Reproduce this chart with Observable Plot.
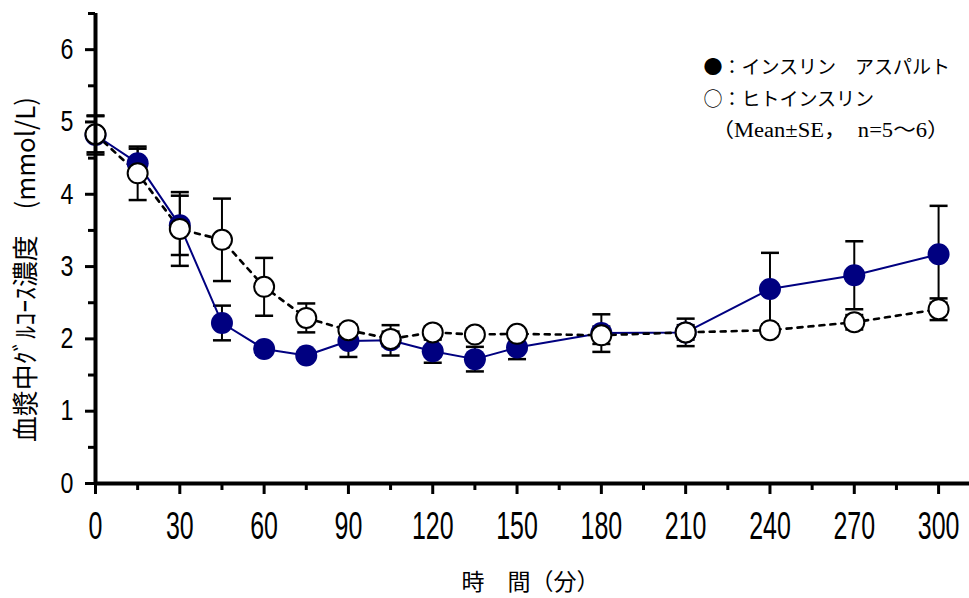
<!DOCTYPE html>
<html>
<head>
<meta charset="utf-8">
<script src="https://cdn.jsdelivr.net/npm/d3@7"></script>
<script src="https://cdn.jsdelivr.net/npm/@observablehq/plot@0.6"></script>
<style>
  body { margin: 0; background: #fff; }
  #chart { width: 969px; height: 598px; }
</style>
</head>
<body>
<div id="chart"></div>
<script>
// Sampling times (min)
const minutes = [0, 15, 30, 45, 60, 75, 90, 105, 120, 135, 150, 180, 210, 240, 270, 300];

// Insulin aspart: mean and SE of plasma glucose (mmol/L)
const aspartMean = [4.82, 4.43, 3.57, 2.22, 1.86, 1.77, 1.97, 1.98, 1.83, 1.72, 1.88, 2.08, 2.09, 2.69, 2.88, 3.17];
const aspartSE   = [0.27, 0.20, 0.41, 0.24, 0.07, 0.06, 0.22, 0.21, 0.16, 0.17, 0.16, 0.26, 0.19, 0.50, 0.47, 0.67];

// Human insulin: mean and SE of plasma glucose (mmol/L)
const humanMean = [4.83, 4.29, 3.52, 3.37, 2.72, 2.29, 2.12, 2.00, 2.09, 2.06, 2.07, 2.05, 2.09, 2.12, 2.23, 2.41];
const humanSE   = [0.25, 0.37, 0.51, 0.57, 0.40, 0.20, 0.08, 0.10, 0.08, 0.08, 0.06, 0.12, 0.10, 0.08, 0.10, 0.15];

// Axis ticks
const xTicks = [0, 30, 60, 90, 120, 150, 180, 210, 240, 270, 300];
const xMinorTicks = [15, 45, 75, 105, 135, 165, 195, 225, 255, 285];
const yTicks = [0, 1, 2, 3, 4, 5, 6];
const yMinorTicks = [0.5, 1.5, 2.5, 3.5, 4.5, 5.5, 6.5];

// Texts
const xLabel = "時　間（分）";
const yLabel = "血漿中ｸﾞﾙｺｰｽ濃度　(mmol/L)";
const legendAspart = "●：インスリン　アスパルト";
const legendHuman = "○：ヒトインスリン";
const legendNote = "（Mean±SE，　n=5～6）";

const toRows = (means, ses) => minutes.map((t, i) => ({
  t, y: means[i], lo: means[i] - ses[i], hi: means[i] + ses[i]
}));
const aspart = toRows(aspartMean, aspartSE);
const human = toRows(humanMean, humanSE);

// Horizontal cap used at the ends of the error bars
const cap = {
  draw(ctx, size) {
    const r = Math.sqrt(size / Math.PI);
    ctx.moveTo(-r, 0);
    ctx.lineTo(r, 0);
  }
};

const sans = "'Liberation Sans', Arial, sans-serif";
const cjk = "'Noto Sans CJK JP', sans-serif";
const serif = "'Liberation Serif', 'Noto Sans CJK JP', serif";

const errorBars = (rows) => [
  Plot.ruleX(rows, {x: "t", y1: "lo", y2: "hi", stroke: "black", strokeWidth: 2}),
  Plot.dot(rows, {x: "t", y: "hi", symbol: cap, r: 9, fill: "none", stroke: "black", strokeWidth: 2.5}),
  Plot.dot(rows, {x: "t", y: "lo", symbol: cap, r: 9, fill: "none", stroke: "black", strokeWidth: 2.5})
];

const legendText = (text, dx, dy, family, size) =>
  Plot.text([text], {frameAnchor: "top-left", textAnchor: "start", lineAnchor: "middle",
    dx, dy, fontSize: size, fontFamily: family, fill: "black"});

const chart = Plot.plot({
  width: 969,
  height: 598,
  marginLeft: 95,
  marginRight: 0,
  marginTop: 13,
  marginBottom: 115,
  style: {background: "white", color: "black", overflow: "visible"},
  x: {domain: [0, 311]},
  y: {domain: [0, 6.5]},
  marks: [
    // error bars
    ...errorBars(human),
    ...errorBars(aspart),
    // series lines
    Plot.line(aspart, {x: "t", y: "y", stroke: "#000080", strokeWidth: 2}),
    Plot.line(human, {x: "t", y: "y", stroke: "black", strokeWidth: 2.6, strokeDasharray: "5,6"}),
    // markers
    Plot.dot(aspart, {x: "t", y: "y", r: 11, fill: "#000080", stroke: "none"}),
    Plot.dot(human, {x: "t", y: "y", r: 10, fill: "white", stroke: "black", strokeWidth: 2}),
    // axes
    Plot.axisY({ticks: yTicks, tickSize: 10, tickPadding: 12, strokeWidth: 3, fontSize: 29, fontFamily: sans, tickFormat: (d) => String(d), label: null}),
    Plot.axisY({ticks: yMinorTicks, tickSize: 7, strokeWidth: 3, tickFormat: () => "", label: null}),
    Plot.axisX({ticks: xTicks, tickSize: 11, tickPadding: 17, strokeWidth: 3, fontSize: 39, fontFamily: sans, tickFormat: (d) => String(d), label: null}),
    Plot.axisX({ticks: xMinorTicks, tickSize: 7, strokeWidth: 3, tickFormat: () => "", label: null}),
    Plot.ruleX([0], {stroke: "black", strokeWidth: 4}),
    Plot.ruleY([0], {stroke: "black", strokeWidth: 4}),
    // axis titles
    Plot.text([xLabel], {frameAnchor: "bottom", dx: -2, dy: 106, fontSize: 23, fontFamily: cjk, fill: "black"}),
    Plot.text([yLabel], {frameAnchor: "left", textAnchor: "middle", lineAnchor: "middle", rotate: -90, dx: -69, dy: 21, fontSize: 26, fontFamily: cjk, fill: "black"}),
    // legend
    legendText(legendAspart, 608, 54, cjk, 19),
    legendText(legendHuman, 608, 86, cjk, 19),
    legendText(legendNote, 616, 117, serif, 20)
  ]
});

// Condense the numeric tick labels horizontally
function condense(selector, sx) {
  chart.querySelectorAll(selector).forEach((t) => {
    const tr = t.getAttribute("transform");
    if (tr) {
      t.setAttribute("transform", tr + ` scale(${sx},1)`);
    } else {
      const x = +t.getAttribute("x") || 0, y = +t.getAttribute("y") || 0;
      t.removeAttribute("x"); t.removeAttribute("y");
      t.setAttribute("transform", `translate(${x},${y}) scale(${sx},1)`);
    }
  });
}
condense('g[aria-label="x-axis tick label"] text', 0.64);
condense('g[aria-label="y-axis tick label"] text', 0.8);

// Fit the long titles to their drawn lengths
function fitText(content, length) {
  chart.querySelectorAll("text").forEach((t) => {
    if (t.textContent === content) {
      t.setAttribute("textLength", length);
      t.setAttribute("lengthAdjust", "spacingAndGlyphs");
    }
  });
}
fitText(yLabel, 345);
fitText(legendNote, 238);

document.getElementById("chart").appendChild(chart);
</script>
</body>
</html>
